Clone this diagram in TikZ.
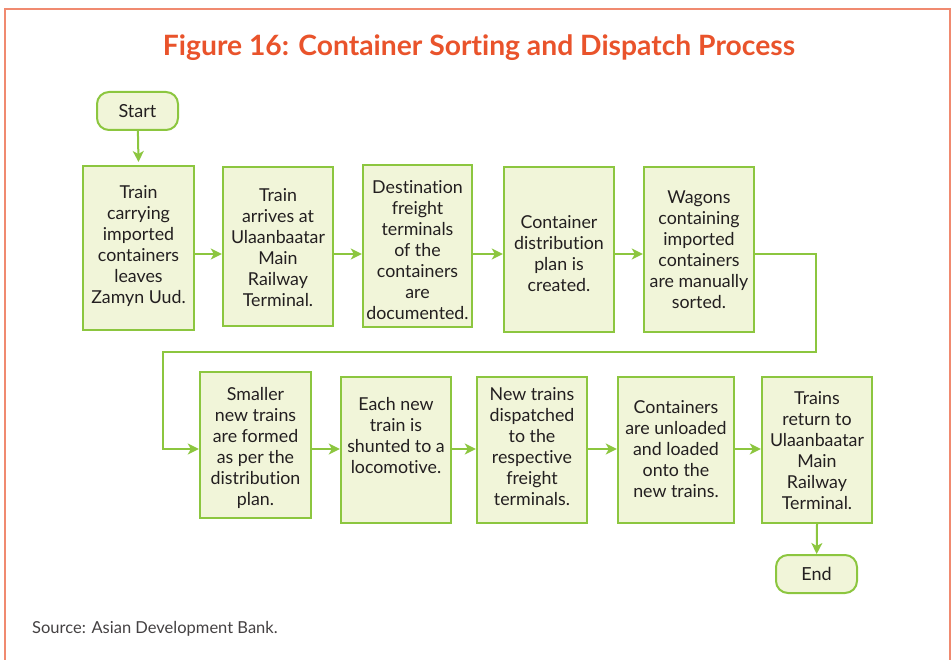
\documentclass[tikz,border=0pt]{standalone}
\usepackage{fontspec}
\setmainfont{Lato}[Ligatures={NoCommon,TeX}]
\usetikzlibrary{arrows.meta}
\definecolor{leaf}{HTML}{8CC63F}
\definecolor{leaffill}{HTML}{F1F5D9}
\definecolor{ink}{HTML}{231F20}
\definecolor{titlered}{HTML}{E9532B}
\definecolor{framecol}{HTML}{F08A70}
\tikzset{
  box/.style={draw=leaf, fill=leaffill, line width=2.4pt, inner sep=0pt},
  term/.style={draw=leaf, fill=leaffill, line width=2pt, rounded corners=12pt,
    minimum width=81pt, minimum height=38pt, inner sep=0pt,
    font=\fontsize{18}{20}\selectfont, text=ink},
  txt/.style={align=center, text=ink, inner sep=0pt,
    font=\fontsize{17.8}{21}\selectfont},
  flow/.style={draw=leaf, line width=2pt, -{Stealth[length=11pt,width=11pt,inset=3pt]}},
}
\begin{document}
\begin{tikzpicture}[x=1pt,y=-1pt]
\useasboundingbox (0,0) rectangle (951,660);
% outer frame
\draw[framecol, line width=2pt] (5,662) -- (5,9) -- (950,9) -- (950,662);
% title and source
\node[text=titlered, font=\fontsize{28}{30}\bfseries, inner sep=0pt, anchor=base] (title) at (479,56)
  {\resizebox{632pt}{\height}{Figure 16: Container Sorting and Dispatch Process}};
\node[anchor=base west, text=ink!85, font=\fontsize{16.5}{19}\selectfont, inner sep=0pt] (src) at (32,633)
  {Source: Asian Development Bank.};

% terminals
\node[term] (start) at (137.5,111) {Start};
\node[term] (end) at (816.5,574) {End};

% first row of process boxes
\node[box, minimum width=111pt, minimum height=164pt] (b1) at (138.5,248) {};
\node[box, minimum width=110pt, minimum height=159pt] (b2) at (278,246.5) {};
\node[box, minimum width=109pt, minimum height=162pt] (b3) at (417.5,246) {};
\node[box, minimum width=110pt, minimum height=165pt] (b4) at (559,249.5) {};
\node[box, minimum width=110pt, minimum height=165pt] (b5) at (699,249.5) {};
% second row of process boxes
\node[box, minimum width=111pt, minimum height=146pt] (b6) at (255.5,445) {};
\node[box, minimum width=110pt, minimum height=146pt] (b7) at (396,450) {};
\node[box, minimum width=110pt, minimum height=146pt] (b8) at (532,450) {};
\node[box, minimum width=116pt, minimum height=146pt] (b9) at (676,450) {};
\node[box, minimum width=110pt, minimum height=146pt] (b10) at (817,450) {};

% box texts
\node[txt] (t1) at (138.5,246) {Train\\carrying\\imported\\containers\\leaves\\Zamyn Uud.};
\node[txt] (t2) at (278,248) {Train\\arrives at\\Ulaanbaatar\\Main\\Railway\\Terminal.};
\node[txt] (t3) at (417.5,250) {Destination\\freight\\terminals\\of the\\containers\\are\\documented.};
\node[txt] (t4) at (559,254) {Container\\distribution\\plan is\\created.};
\node[txt] (t5) at (699,250) {Wagons\\containing\\imported\\containers\\are manually\\sorted.};
\node[txt] (t6) at (255.5,448) {Smaller\\new trains\\are formed\\as per the\\distribution\\plan.};
\node[txt] (t7) at (396,436) {Each new\\train is\\shunted to a\\locomotive.};
\node[txt] (t8) at (532,447) {New trains\\dispatched\\to the\\respective\\freight\\terminals.};
\node[txt] (t9) at (676,449) {Containers\\are unloaded\\and loaded\\onto the\\new trains.};
\node[txt] (t10) at (817,451) {Trains\\return to\\Ulaanbaatar\\Main\\Railway\\Terminal.};

% connector rows and bends
\coordinate (r1) at (0,254);
\coordinate (r2) at (0,449);
\coordinate (bendA) at (816,254);
\coordinate (bendB) at (816,352);
\coordinate (bendC) at (163,352);
\coordinate (bendD) at (163,449);

\draw[flow] (start) -- (b1.north |- 0,162);
\draw[flow] (b1.east |- r1) -- (b2.west |- r1);
\draw[flow] (b2.east |- r1) -- (b3.west |- r1);
\draw[flow] (b3.east |- r1) -- (b4.west |- r1);
\draw[flow] (b4.east |- r1) -- (b5.west |- r1);
\draw[flow] (b5.east |- r1) -- (bendA) -- (bendB) -- (bendC) -- (bendD) -- (b6.west |- r2);
\draw[flow] (b6.east |- r2) -- (b7.west |- r2);
\draw[flow] (b7.east |- r2) -- (b8.west |- r2);
\draw[flow] (b8.east |- r2) -- (b9.west |- r2);
\draw[flow] (b9.east |- r2) -- (b10.west |- r2);
\draw[flow] (b10.south) -- (end);
\end{tikzpicture}
\end{document}
